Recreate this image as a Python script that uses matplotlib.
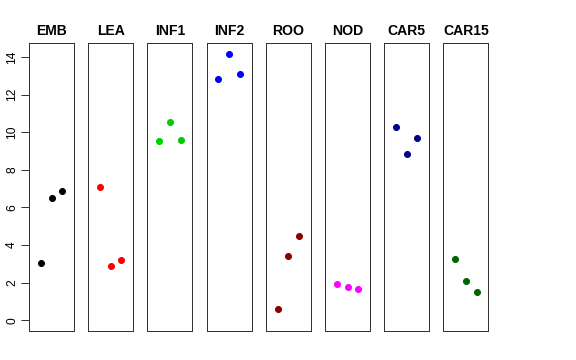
import matplotlib
matplotlib.use("Agg")
import matplotlib.pyplot as plt

groups = ["EMB", "LEA", "INF1", "INF2", "ROO", "NOD", "CAR5", "CAR15"]
rep_x = [1, 2, 3]
emb = [3.03, 6.49, 6.89]
lea = [7.11, 2.87, 3.21]
inf1 = [9.55, 10.56, 9.61]
inf2 = [12.82, 14.18, 13.10]
roo = [0.58, 3.42, 4.47]
nod = [1.91, 1.79, 1.65]
car5 = [10.28, 8.86, 9.68]
car15 = [3.24, 2.09, 1.51]
values = [emb, lea, inf1, inf2, roo, nod, car5, car15]
colors = ["black", "#FF0000", "#00CD00", "#0000FF", "#8B0000", "#FF00FF", "#00008B", "#006400"]
yticks = [0, 2, 4, 6, 8, 10, 12, 14]

plt.rcParams['font.family'] = ['Liberation Sans', 'DejaVu Sans']
W, H = 576, 360
fig = plt.figure(figsize=(W / 72, H / 72), dpi=72)

left0 = 29
pw = 45
step = 59.2
top, bottom = 43, 331
for i, (g, v, c) in enumerate(zip(groups, values, colors)):
    x0 = left0 + i * step
    ax = fig.add_axes([x0 / W, 1 - bottom / H, pw / W, (bottom - top) / H])
    ax.plot(rep_x, v, 'o', color=c, ms=6, mec=c)
    ax.set_xlim(-0.1, 4.1)
    ax.set_ylim(-0.57, 14.75)
    ax.set_xticks([])
    for s in ax.spines.values():
        s.set_color('#333333')
        s.set_linewidth(1)
    ax.set_title(g, fontsize=14, fontweight='bold', pad=8)
    if i == 0:
        ax.set_yticks(yticks)
        ax.set_yticklabels([str(t) for t in yticks], rotation=90, va='center', fontsize=12)
        ax.tick_params(axis='y', length=8, width=1, color='#333333', pad=3)
    else:
        ax.set_yticks([])

fig.savefig("out.png", dpi=72)
